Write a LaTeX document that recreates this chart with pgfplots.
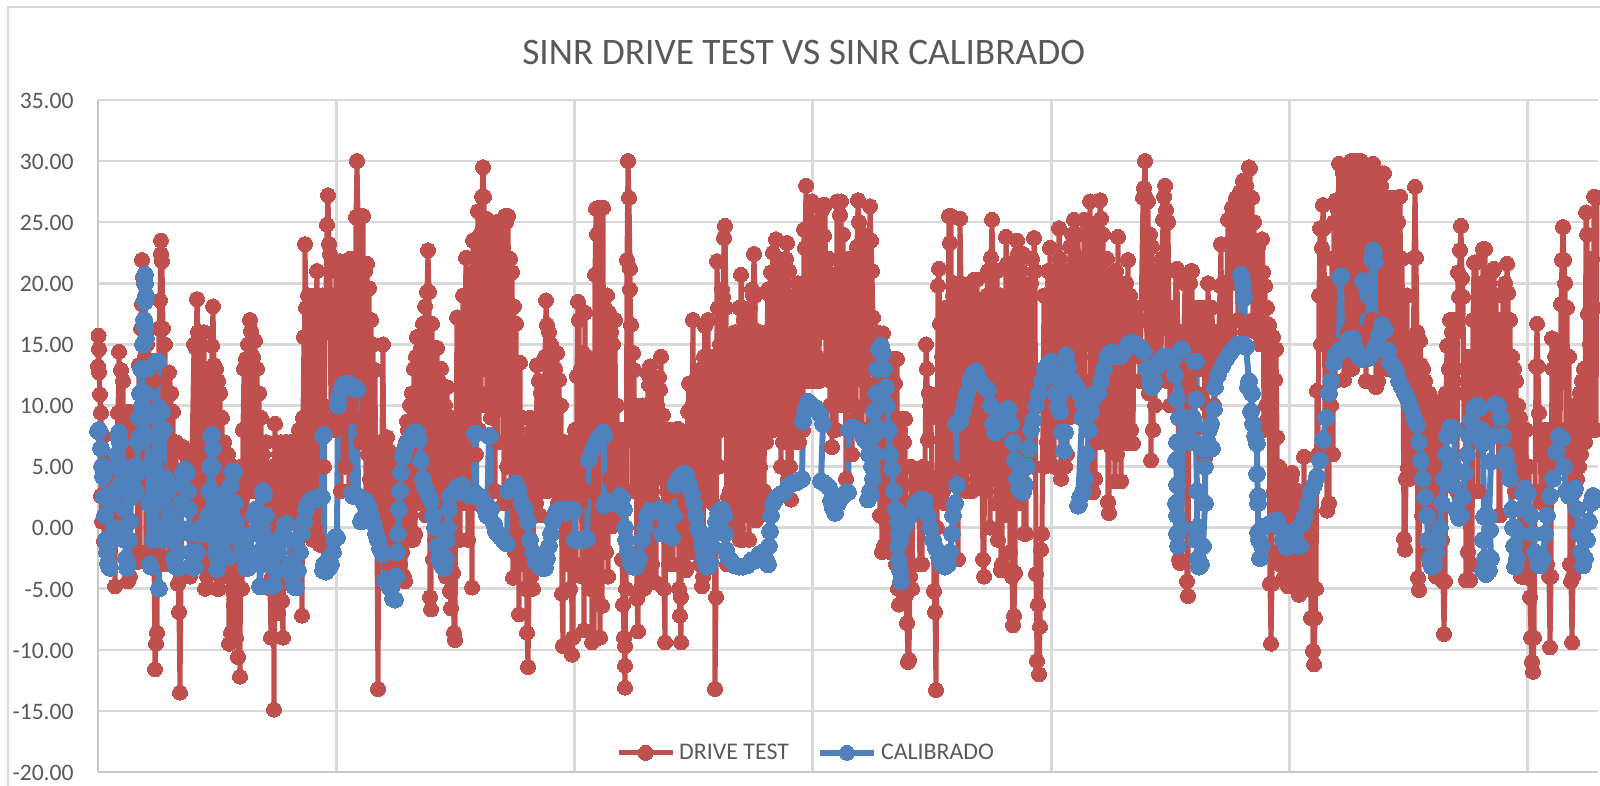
\documentclass[border=0pt]{standalone}
\usepackage{fontspec}
\setmainfont{Carlito}
\usepackage{pgfplots}
\pgfplotsset{compat=1.18}
\definecolor{rojo}{HTML}{C0504D}
\definecolor{azul}{HTML}{4F81BD}
\definecolor{texto}{HTML}{595959}
\definecolor{rejilla}{HTML}{D9D9D9}
\begin{document}
\begin{tikzpicture}
\path[use as bounding box] (0,0) rectangle (800pt,393pt);
\draw[rejilla,line width=1pt] (4.2pt,0) -- (4.2pt,389.5pt) -- (800pt,389.5pt);
\begin{axis}[
    at={(49pt,7pt)},
    anchor=south west,
    scale only axis,
    width=750pt,
    height=336pt,
    xmin=0, xmax=1500,
    ymin=-20, ymax=35,
    clip=false,
    axis lines*=left,
    axis line style={-,rejilla!92!black,line width=1.25pt},
    xtick={238.3,476.6,714.9,953.2,1191.5,1429.8},
    xticklabels={},
    ytick={-20,-15,...,35},
    major tick length=0pt,
    ymajorgrids=true,
    xmajorgrids=true,
    x grid style={rejilla,line width=1.5pt},
    y grid style={rejilla,line width=1.25pt},
    /pgf/number format/assume math mode=true,
    /pgf/number format/fixed,
    /pgf/number format/fixed zerofill,
    /pgf/number format/precision=2,
    y tick label style={font=\fontsize{11.8}{13}\selectfont,text=texto,inner sep=0pt,xshift=-12pt,yshift=-0.4pt},
    title={SINR DRIVE TEST VS SINR CALIBRADO},
    title style={at={(0.4705,1)},anchor=center,yshift=18pt,font=\fontsize{18.7}{22}\selectfont,text=texto},
    legend columns=2,
    legend style={at={(0.4727,0.0285)},anchor=center,draw=none,fill=none,font=\fontsize{11.95}{14}\selectfont,text=texto,
        /tikz/every even column/.append style={column sep=12pt}},
    legend image code/.code={
        \draw[#1,mark=none] (0pt,0pt) -- (27pt,0pt);
        \draw[#1,only marks,mark size=3.75pt] plot coordinates {(13.5pt,0pt)};},
    line join=round,
]
% DRIVE TEST
\addplot[rojo,line width=2.5pt,mark=*,mark size=3.75pt,mark options={solid,fill=rojo,draw=rojo,line width=0pt}] coordinates {
(0,13.2)(0.5,15.7)(1,14.6)(1,12.7)(2,10.9)(3,9.4)(3,2.6)(4,0.5)(5,7.5)(6,-1.1)(7,6)(9,1.7)(10,4.6)(12,-.5)(14,5)(16,3)(17,-4.8)(18,6)(20,9.4)(21,14.4)(22,1)(23,12.9)(24,-1)(25,12)(26,2)(28,9.4)(29,-1)(30,-4.4)(31,9.5)(32,-4)(34,8)(36,3)(38,9.5)(40,-2.8)(41,13.3)(42,-2)(43,16.3)(44,21.9)(44,18.3)(45,20.5)(46,5)(47,14)(48,-2)(49,15)(50,2)(52,13)(54,-1)(55,12)(56,-2)(57,-11.6)(58,-9.5)(59,-8.6)(60,5)(61,16.3)(62,18.6)(63,23.5)(63,22.4)(64,21.8)(65,16.3)(66,-3)(67,15)(69,1)(71,12.7)(73,11)(74,-3)(75,9.5)(76,-2)(78,7)(79,0)(80,-4.6)(81,-6.9)(82,-13.5)(83,-4)(84,3)(85,6.6)(87,6)(88,2)(90,6.2)(92,-4)(94,6)(96,15)(97,-1)(98,14.7)(99,18.7)(100,16)(101,-3)(102,16)(103,-1)(104,13)(105,1)(106,16)(107,-5)(108,13)(109,-4)(110,11)(111,0)(112,13)(113,-1)(114,14.9)(115,18.1)(116,13.3)(117,-3)(118,13)(119,-5)(120,12)(121,-5)(122,11)(123,-4)(124,9)(125,-1)(126,7)(127,-1)(128,5)(129,-4)(130,6)(131,-9.5)(132,2)(133,-8.6)(134,-3)(135,5)(136,-6.3)(137,4)(138,-9)(139,2)(140,-10.6)(141,3)(142,-12.2)(143,5)(144,-5)(145,8)(146,13)(147,-3)(148,13.8)(149,-2)(150,15)(151,3)(152,17)(153,16.1)(154,5)(155,14)(156,3)(157,15.3)(158,5)(159,13)(160,4)(161,11)(162,3)(163,9)(164,2)(165,6)(166,1)(168,7)(170,-3)(171,4)(172,-5)(173,-9)(174,-4)(175,5)(176,-14.9)(177,8.5)(178,-5)(179,7)(180,-7)(181,6)(182,-6)(183,7)(184,-6)(185,-9)(186,1)(187,7)(188,-1)(189,7)(191,2)(192,7)(193,3)(194,7)(195,4)(196,7)(198,1)(199,7)(200,-2)(201,8)(202,0)(203,8)(204,-7.2)(205,9)(206,15.6)(206,2)(207,23.2)(208,18)(209,3)(210,19)(211,2)(212,17)(213,5)(214,18)(215,-1)(216,19)(217,0)(218,18)(219,21)(220,15)(221,-1)(222,-1.4)(223,10)(224,19)(225,10)(226,5)(227,16)(228,19)(229,24.8)(230,27.2)(231,23.2)(232,22.4)(233,8)(234,19)(235,9)(236,19)(237,8)(238,21)(240,11)(241,19)
(242,21.8)(243,3)(244,21)(245,9)(246,18)(247,5)(248,21.8)(249,9)(250,20)(251,3)(252,22)(253,10)(254,21)(255,11)(256,22)(257,11)(258,25.4)(259,30)(260,25.5)(261,9)(262,25.5)(263,7)(264,21)(265,25.5)(266,8)(267,21)(268,2)(269,21.6)(270,6)(271,19.6)(272,4)(273,17)(274,3)(275,15)(276,2)(277,12.9)(278,1)(279,-1)(280,-13.2)(281,3)(282,7)(283,-.5)(284,7)(285,15)(286,2)(287,7)(288,-2)(289,7.4)(290,-2.5)(291,6.3)(292,-3)(293,5)(294,-2)(295,6)(296,-3)(297,4)(298,-1)(299,5)(300,-1.5)(301,4)(302,-3)(303,6)(304,-2)(305,6)(306,-4)(307,-4.4)(308,7)(309,8.7)(310,8)(311,-1)(312,10)(313,1)(314,11)(315,-1)(316,13)(317,-.5)(318,14)(319,15.6)(320,2)(321,13)(322,3)(323,14.7)(324,2)(325,16.7)(326,4)(327,18.1)(328,1)(329,19.3)(330,22.7)(331,19.3)(332,-5.7)(333,-6.7)(333,2)(334,16.7)(335,-2.6)(336,14.7)(337,-1)(338,13)(339,14.7)(340,1)(341,12)(342,-1)(343,13)(344,2)(345,11.5)(346,-2)(347,10)(348,-4)(349,11.5)(350,0)(351,9)(352,-5.2)(353,-6.6)(354,9)(355,-3.7)(356,-8.6)(357,-9.2)(358,6)(359,17.2)(360,4)(361,8)(362,-1)(363,17)(364,3)(365,19)(366,2)(367,17)(368,22.1)(369,19)(370,-1)(371,17)(372,3)(373,20)(374,-4.9)(375,23.5)(376,2)(377,21)(378,6)(379,21)(380,25.9)(381,8)(382,24)(383,10)(384,27.1)(385,29.5)(386,27.1)(387,13)(388,25.3)(389,11)(390,24)(391,10)(392,22)(393,9)(394,25)(395,10)(396,22)(397,3)(398,25)(399,25)(400,7)(402,24)(403,10)(405,23)(406,2)(407,25.5)(408,25)(409,5)(410,25.5)(411,8)(412,22)(413,-1)(414,20.9)(415,-4.1)(416,18.1)(417,-2)(418,16.7)(419,1)(420,9)(421,-7.1)(422,13.5)(423,-3)(424,9)(425,-3)(426,7)(427,-5)(428,7)(429,-8.6)(430,-11.4)(431,-5)(432,9)(433,-4)(434,8)(435,-5)(436,7)(437,5)(438,2)(439,13.3)(440,3)(441,12)(442,1)(443,11)(444,3)(445,10)(446,5)(447,14)(448,18.6)(449,16.6)(450,3)(451,16)(452,4)(453,15)(454,5)(455,14)(456,5)(457,13)(458,5)(459,14.3)(460,2)(461,12.1)(462,3)(463,10)(464,-5.4)(465,-9.7)(465,7)(466,3)(467,7)(468,2)(470,-3)(471,7)(472,-5)(473,6)(474,-10.4)(475,-9)(476,5)(477,8)(478,-3)(479,12.4)(480,18.5)(481,17)(482,2)(483,13)(484,-4)(485,14.3)(486,-8.4)(487,17.6)(488,3)(489,14)(490,-3)(491,13)
(492,-5)(493,12)(494,-9.4)(495,12)(496,-9.2)(497,20.7)(498,26.1)(499,24)(500,-6)(501,26.2)(502,-9)(503,26.2)(504,-6.4)(505,26.2)(506,0)(507,18)(508,-2)(509,19)(510,-4)(511,17.6)(512,4)(513,16)(514,.1)(515,15)(516,1)(517,17)(518,2)(519,10)(520,3)(521,8)(522,3)(523,8)(524,-2.6)(525,-6.3)(526,-9)(527,-13.1)(527,-11.3)(527,-9.7)(528,-5)(529,21.9)(530,30)(531,27)(532,21.2)(532,19.5)(533,16.6)(534,3)(535,14.3)(536,12.9)(537,3)(538,10)(539,-5.8)(540,-8.5)(541,9)(542,3)(543,-4.9)(544,10)(545,3)(546,-5)(547,10)(548,4)(549,-4)(550,12.6)(551,11.7)(552,13.2)(553,5)(554,-3)(555,9)(556,2)(557,11)(558,-4.5)(559,10)(560,5)(561,12.3)(562,11.3)(563,14)(564,4)(565,9.2)(566,-5)(567,-9.4)(568,8)(569,3)(570,8)(571,-3)(572,8)(573,3)(574,8)(575,-3)(576,8)(577,3)(578,8)(579,1)(580,8.1)(581,-5)(582,-7.2)(583,-9.4)(583,-5.7)(584,3)(585,7)(586,-3)(587,7)(588,-3.5)(589,7)(590,9.5)(591,11.8)(592,8)(593,-2)(594,10)(595,17)(596,4)(597,11)(598,-2)(599,10)(600,0)(601,12)(602,-3)(603,13)(604,-4.8)(605,-4)(606,14)(607,16.5)(608,14)(609,3)(610,17)(611,4)(612,14)(613,3)(614,12)(615,2)(616,14)(617,-13.2)(618,-5.7)(619,21.8)(620,18)(621,5)(622,15)(623,8)(624,19.5)(625,18.9)(626,23.7)(627,24.7)(628,18)(629,-3)(630,2.5)(631,15)(632,3)(633,12)(634,1)(635,14)(636,.5)(637,16)(638,1)(639,14)(640,0)(641,18)(642,-1)(643,20.7)(644,18)(645,-1)(646,17)(647,1)(648,15)(649,1.4)(650,17)(651,-1)(652,18)(653,2)(654,19.5)(655,19)(656,22.4)(657,19)(658,.6)(659,16.1)(660,1)(661,16)(662,5)(663,15)(664,2)(665,14)(666,3)(667,15)(668,7)(669,16)(670,19.5)(671,8)(672,19)(673,20.9)(674,19.5)(675,22.5)(676,8)(677,20)(678,23.6)(679,10)(680,22)(681,9)(682,20)(683,5)(684,21)(685,7)(686,18)(687,8)(688,22)(689,23.3)(690,4)(691,21)(692,5)(693,2.3)(694,16)(695,8)(696,18)(697,9)(698,19)(699,7)(700,20)(701,7)(702,19)(703,10)(704,20)(705,8)(706,24.4)(707,22.9)(708,28)(709,24.4)(710,12)(711,23)(712,12)(713,23)(714,26.7)(715,14)(716,22)(717,12)(718,24)(719,14)(720,25)(721,12)(722,24)(723,16)(724,26)(725,26.4)(726,23.9)(727,26.4)(728,13)(729,21)(730,12.1)(731,22)(732,10)(733,20)(734,6.6)(735,18)(736,8)(737,20)(738,8)(739,26.7)(740,20)(741,10)
(742,25.6)(743,26.7)(744,10)(745,24)(746,11)(747,21)(748,4)(749,20)(750,11)(751,22)(752,10)(753,22)(754,6)(755,20)(756,10)(757,21)(758,9)(759,23)(760,26.8)(761,25)(762,14)(763,22)(764,8)(765,24)(766,12)(767,22)(768,10)(769,23.5)(770,8)(771,21)(772,26.3)(773,23.5)(774,21)(775,17.2)(776,11.7)(777,14)(778,8)(779,16)(780,3)(781,13)(782,1)(783,15)(784,-2)(785,15.9)(786,-1.5)(787,13)(788,.5)(789,13.8)(790,-1)(791,12)(792,-2)(793,11.8)(794,-1)(795,13.8)(796,0)(797,11.8)(798,-3)(799,13.8)(800,-5)(801,-6.3)(802,8)(803,-4)(804,8.9)(805,-5)(806,7)(807,8.9)(808,-5.5)(809,-7.8)(810,-11)(811,-10.8)(812,-4)(813,5)(814,-5)(815,2)(816,3.5)(818,2)(820,4.6)(822,-3)(824,-3)(825,5)(826,1)(827,4)(828,15)(829,13)(830,7.2)(831,11)(832,10)(833,9)(834,4)(835,3)(836,-5.2)(837,-6.9)(838,-13.3)(839,0)(840,19.8)(841,21.2)(842,16.7)(843,4)(844,14)(845,3)(846,17)(847,2)(848,18)(849,4)(850,16)(851,25.5)(852,23.3)(853,25.5)(854,5)(855,19)(856,20)(858,2)(859,17)(860,-2.6)(861,16)(862,25.3)(863,20)(864,4)(865,17)(866,19.5)(868,3)(869,17)(870,5)(871,18)(872,20)(874,3)(875,19)(876,20.3)(877,5)(878,17)(879,20.3)(880,9)(881,15)(882,4)(883,18)(884,4)(885,-2.6)(886,-4)(887,17)(888,3)(889,19)(890,21)(892,0)(893,22.1)(894,25.2)(895,21)(896,4)(897,19)(898,2)(899,21)(900,-1)(902,19)(903,-3.5)(904,-3)(905,18)(907,1)(908,23.8)(909,21.6)(910,8)(911,18)(912,-2)(913,21.6)(914,-4)(915,-8)(916,-7.2)(917,-3.7)(918,19)(919,23.5)(920,22.4)(922,2)(923,21)(924,4)(925,22.4)(926,-.5)(927,19)(928,-.5)(929,18)(930,6)(931,19)(932,5)(933,20)(934,22)(935,5)(936,23.7)(937,21)(938,-3.8)(939,-10.9)(940,-6.3)(941,-12)(942,-8.1)(943,-1.8)(944,-.5)(945,10)(946,19)(947,5)(948,19)(949,7)(950,21)(951,6)(952,22.9)(953,8)(955,20)(956,5)(957,21)(958,10)(959,20)(960,9)(961,24.5)(962,22)(963,4)(964,20)(965,5)(966,19)(967,5)(968,20)(969,6)(970,21)(971,9)(972,23)(973,12.4)(974,24)(975,10)(976,25.2)(977,15)(978,24)(979,13)(980,24)(982,14)(983,22)(985,12)(986,25.2)(987,12)(988,24)(990,15)
(992,26.7)(993,3)(994,20)(995,2.9)(996,24)(997,4)(998,24)(999,7)(1000,25)(1001,7)(1002,26.8)(1003,25.3)(1004,9)(1005,24)(1006,10)(1007,22)(1008,8)(1009,22)(1010,2.1)(1011,1.2)(1012,20)(1013,6.6)(1014,20)(1015,8)(1016,20)(1017,3.8)(1018,21)(1019,6)(1020,23.8)(1021,8)(1022,18)(1023,3.8)(1024,20)(1025,7)(1026,19)(1027,6.9)(1028,20)(1029,9)(1030,21.9)(1031,7)(1032,19)(1033,8)(1034,18)(1035,6.9)(1036,18)(1037,14)(1038,18)(1040,14)(1041,17)(1042,12)(1043,17)(1045,27)(1046,27.8)(1047,30)(1048,27)(1049,12)(1050,26.7)(1051,11)(1052,24)(1053,5.5)(1054,23)(1055,8)(1056,21)(1057,10)(1058,19)(1059,12)(1060,18)(1061,12)(1062,20)(1063,13)(1064,22)(1065,25.2)(1066,27.1)(1067,28)(1068,26)(1069,12)(1070,25)(1072,10)(1074,18)(1076,14)(1078,21)(1079,21.2)(1080,13)(1081,-2.6)(1082,-2.9)(1083,16)(1085,13)(1087,20)(1088,20.4)(1089,-4.4)(1090,-5.6)(1091,12)(1092,20)(1093,21)(1094,21)(1095,8)(1096,17)(1097,8)(1098,18)(1099,11)(1100,18)(1101,13)(1102,18)(1103,14)(1104,18)(1105,13)(1106,18)(1107,5.7)(1108,18)(1109,10)(1110,20)(1112,12)(1114,18)(1116,10)(1118,16)(1120,13)(1122,19.8)(1123,23.2)(1124,14)(1126,20)(1128,15)(1130,25.2)(1132,16)(1134,26.2)(1136,20)(1138,27)(1140,17)(1142,27.5)(1144,22)(1145,28.4)(1147,16)(1148,28)(1150,19)(1151,29.5)(1152,29.4)(1153,22)(1154,27)(1155,17)(1156,25)(1158,16)(1160,23)(1162,15)(1164,23.6)(1165,20.9)(1166,8)(1167,19.8)(1168,10)(1169,18)(1170,9)(1171,16.6)(1172,-4.6)(1173,-9.5)(1174,-4.6)(1175,15.6)(1176,3)(1177,12.1)(1178,14.6)(1179,7.4)(1180,-2)(1181,5)(1182,-3)(1183,4.5)(1184,-2)(1185,4)(1186,-4)(1187,4)(1188,-3)(1189,4)(1190,-4.8)(1191,4)(1192,-4)(1193,4)(1194,4.5)(1195,-3)(1196,3)(1197,-4)(1198,3)(1199,-5)(1200,3)(1201,-5.5)(1202,1)(1203,-5)(1204,2)(1205,-3)(1206,5.8)(1207,-3)(1208,3)(1209,-4)(1210,1)(1211,-5)(1212,-1)(1213,-7.4)(1214,3)(1215,-10.1)(1216,-11.2)(1217,-7.4)(1218,-5)(1219,11.2)(1220,6)(1221,19)(1222,24.5)(1223,15)(1224,22.9)(1225,26.4)(1226,24.5)(1227,9)(1228,20)(1229,1.4)(1230,15)(1231,2)(1232,18.9)(1233,10)(1234,22)(1235,6)(1236,25)(1237,12)(1238,26.8)(1239,14)(1240,26)
(1241,29.8)(1242,26.8)(1243,15)(1244,25)(1245,29)(1246,12.1)(1247,29)(1248,14)(1249,27)(1250,16)(1251,29.5)(1252,15)(1253,30)(1254,13)(1255,30)(1256,14)(1257,30)(1258,15)(1259,28)(1260,18)(1261,30)(1262,15)(1263,30)(1264,14)(1265,29)(1266,16)(1267,29.7)(1268,12)(1269,28)(1270,14)(1271,28)(1272,16)(1273,26)(1274,17)(1275,29.8)(1276,15)(1277,29)(1278,11.5)(1279,28)(1280,12)(1281,27)(1282,14)(1283,28)(1284,29)(1285,24)(1286,29)(1287,15)(1288,25)(1289,13)(1290,27)(1291,15)(1292,26)(1293,14)(1294,27)(1295,15)(1296,26)(1297,15)(1298,27)(1299,16)(1300,25)(1301,14)(1302,27.1)(1303,14)(1304,22)(1305,13)(1306,-.9)(1307,-1.8)(1308,4)(1309,19)(1310,4.9)(1311,15)(1312,4)(1313,6.4)(1314,10)(1315,7)(1316,22.1)(1317,27.9)(1318,22.1)(1319,16)(1320,-4.1)(1321,-5.1)(1322,15.3)(1323,13.3)(1324,1)(1325,13)(1326,3)(1327,12)(1328,3)(1329,11)(1330,-2)(1331,11)(1332,-3)(1333,10.6)(1334,2)(1335,9.5)(1336,-3)(1337,9.5)(1338,-4)(1339,9)(1340,-3.5)(1341,10)(1342,0)(1343,10)(1344,-1)(1345,-4.4)(1346,-8.7)(1347,-4.4)(1348,11)(1349,14.9)(1350,8)(1351,13)(1352,17)(1353,8)(1354,16)(1355,8)(1356,17)(1357,13)(1358,16)(1359,3)(1360,20.9)(1361,18.9)(1362,22.7)(1363,24.7)(1364,20.4)(1365,18.9)(1366,8)(1367,11)(1368,-4.3)(1369,12)(1370,-2)(1371,14)(1372,-4.3)(1373,14)(1374,-3)(1375,17)(1376,21.7)(1377,12)(1378,21.7)(1379,17)(1380,3)(1381,18)(1382,7)(1383,20)(1384,8)(1385,22.8)(1386,20)(1387,22.8)(1388,9)(1389,19)(1390,8)(1391,20)(1392,9)(1393,19)(1394,11)(1395,21)(1396,21.2)(1397,12)(1398,19)(1399,12)(1400,17)(1401,1)(1402,1)(1403,17)(1404,10)(1405,19)(1406,12)(1407,20)(1408,8)(1409,21.6)(1410,19.2)(1411,10)(1412,17)(1413,7)(1414,14)(1415,5)(1416,13)(1417,3)(1418,12)(1419,3)(1420,10)(1421,4)(1422,9)(1423,-4)(1424,8)(1425,-4)(1426,8)(1427,1)(1428,8)(1429,-1)(1430,-4.1)(1431,5)(1432,-5.7)(1433,-9)(1434,-11)(1435,-11.8)(1436,-9)(1437,3)(1438,13.2)(1439,16.7)(1440,13.2)(1441,9.4)(1442,8)(1443,3)(1444,7)(1445,2)(1446,8)(1447,2)(1448,8)(1449,-3)(1450,7)(1451,-4)(1452,-9.8)(1453,-4)(1454,15.5)(1455,13)(1456,5)(1457,14)(1458,5)(1459,15)(1460,6)(1461,15)(1462,7)(1463,18.3)(1464,21.9)(1465,24.6)(1466,21.9)(1467,20)(1468,8)(1469,18)(1470,5)(1471,14)(1472,-3)(1473,-4.4)(1474,-9.4)(1475,-4)(1476,10)(1477,3)(1478,9)(1479,4)(1480,10)(1481,5)(1482,11)(1483,6)(1484,12)(1485,7)(1486,13)(1487,7)(1488,25.8)(1489,24)(1490,17.5)(1491,8)(1492,15)(1493,14)(1494,22)(1495,8)(1496,27.1)(1497,18)(1498,8)(1499,27)
};
\addlegendentry{DRIVE TEST}
% CALIBRADO
\addplot[azul,line width=3pt,mark=*,mark size=4.2pt,mark options={solid,fill=azul,draw=azul,line width=0pt}] coordinates {
(0,7.9)(1,8)(3,6.5)(4,5)(5,4.2)(6,2.5)(7,1)(8,-1)(9,-2)(10,-2.9)(11,-3.2)(12,-3.3)(14,-1)(15,2)(16,0)(17,3)(18,5)(19,6)(20,7.5)(21,7.8)(22,7)(24,5)(25,3.5)(26,1.5)(27,-1)(28,-2.5)(29,-3.3)(30,-3)(31,-1)(32,0.5)(33,2.5)(35,4)(37,5)(38,3)(39,4.5)(40,7)(41,9)(42,7.5)(42,11)(43,13)(44,10)(45,15)(46,17)(47,20.7)(47,20)(48,19)(47,18.5)(47,16.5)(48,15.5)(49,13)(48,11)(47,9.5)(49,7.5)(50,5)(51,2)(52,-3)(53,-3.2)(55,-1)(57,5)(58,13.6)(60,13.6)(59,9)(60,6)(61,-5)(62,9.8)(63,3)(64,9.5)(65,-1)(66,8)(67,0)(68,4)(70,3)(71,1)(72,0.5)(74,-1)(76,-2.5)(78,-3.2)(80,-3.3)(81,-2)(82,0)(83,2)(84,3.5)(85,4.5)(87,4.8)(89,4.5)(90,3)(91,1.5)(92,-.5)(93,-2)(94,-3)(95,-3.3)(97,-3.2)(99,-2)(101,-0.5)(103,0)(105,0)(107,0.3)(109,-.5)(110,1)(111,3)(112,5)(113,7.5)(114,7.6)(115,6.5)(115,5)(114,3)(116,1.5)(117,-1)(118,-2)(119,-3.4)(120,-2.5)(122,0)(124,2)(125,-1)(127,2.8)(128,0)(130,-2.4)(132,1)(133,3.5)(134,4.6)(136,4.6)(137,2)(138,.5)(140,-.5)(142,-1)(144,-1.5)(146,-2.5)(148,-3.3)(150,-3.3)(152,-2)(154,-.5)(156,1)(158,1.5)(160,0)(161,-2)(162,-4.8)(163,-3)(164,0)(165,3)(166,2.7)(168,1)(170,-1)(172,-3)(174,-4.8)(176,-4.7)(178,-3.5)(180,-2)(183,-1)(185,-.5)(187,.3)(189,.3)(191,-1)(192,-3)(194,-4)(196,-4.8)(198,-4.9)(200,-3.5)(202,-2)(204,-.5)(206,.5)(208,1.5)(210,2)(212,2.2)(215,2.4)(218,2.3)(220,2.5)(222,2.5)(224,2.5)(225,7.5)(226,7.6)(226,-3)(225,-3.5)(228,-3.6)(231,-3.3)(233,-3)(235,-2)(236,-1)(237,-.8)(239,-.8)(240,10)(240,10.5)
(242,11)(245,11.7)(248,11.8)(251,11.8)(253,11.6)(254,2.8)(255,2.6)(257,11.5)(259,11.3)(260,2.6)(262,2.5)(263,0.5)(264,0.7)(266,2)(268,2.2)(271,1.6)(273,1)(276,.3)(278,-.5)(280,-1)(282,-1.7)(285,-2.2)(287,-4.3)(289,-4.5)(291,-4.8)(293,-5)(295,-5.8)(297,-5.9)(298,-4)(299,-2)(300,-.5)(301,1.5)(302,3)(303,4.5)(305,5.8)(307,6.5)(310,7)(313,7.5)(316,7.8)(319,7.8)(321,7.2)(323,5.5)(325,4)(327,3.3)(330,2.8)(333,2.2)(335,1)(337,0)(339,-1.5)(341,-2.5)(344,-3.1)(346,-3.3)(348,-2.5)(349,-1)(350,0)(351,1.5)(352,2.6)(355,2.8)(358,3.2)(361,3.4)(364,3.5)(367,3)(370,2.7)(373,2.7)(376,2.6)(377,7.7)(378,7.7)(378,2.8)(381,2.6)(384,2.4)(387,1.5)(389,1)(391,7.5)(392,7.5)(393,1.5)(396,.3)(398,-.3)(400,-.5)(403,-.8)(406,-1.1)(409,-1.3)(410,3)(412,3.2)(415,3.5)(418,3.6)(421,3)(424,2)(427,1.5)(430,.5)(432,-1)(435,-2)(438,-2.8)(441,-3.1)(444,-3.3)(447,-3.3)(449,-2.5)(451,-1.5)(453,-.5)(455,.5)(458,1.3)(461,1.5)(464,1.4)(467,1.2)(470,1.5)(473,1.5)(476,1.4)(477,-1)(480,-1)(483,-1)(486,-1)(489,-.9)(491,5.6)(495,6.5)(499,7.2)(503,7.6)(505,7.8)(506,7.5)(506,1.8)(508,2.2)(511,2)(514,2)(517,2)(520,2.3)(522,2.6)(524,2.4)(526,1.5)(527,0)(528,-1)(530,-2)(532,-2.8)(535,-3.2)(538,-3.2)(541,-2.5)(544,-1)(547,0)(549,1)(552,1.4)(555,1.4)(558,1.4)(562,1.5)(564,-.5)(566,1.2)(568,1.3)(570,1)(572,-.6)(574,-.8)(576,1)(577,3.5)(579,3.8)(582,4.2)(585,4.4)(588,4.4)(590,3.8)(592,3.2)(594,2.8)(596,2)(598,1)(600,0)(602,-.5)(604,-1.5)(606,-2.5)(608,-3.1)(610,-3.2)(612,-2.8)(614,-1.5)(616,-.5)(618,.5)(620,1.2)(622,1.4)(624,1.5)(626,1)(627,-.5)(628,-1.8)(630,-2.4)(633,-2.7)(637,-3.1)(641,-3.2)(645,-3.2)(649,-3.1)(653,-2.7)(657,-2.7)(661,-2.2)(665,-2)(668,-2.6)(670,-3)(671,-1.5)(672,-.3)(673,1)(675,2)(678,2.4)(682,2.7)(686,2.9)(690,3.4)(694,3.6)(698,3.7)(702,3.9)(704,4)(705,8.7)(707,9.6)(710,10.3)(714,10)(718,9.8)(722,9.3)(725,8.5)(723,3.8)(727,3.6)(731,3.3)(733,2.2)(735,1.6)(737,1.2)(740,2)(744,2.5)(748,2.9)(750,2.9)(751,8)(754,8.2)(758,8.1)(762,7.9)(766,7.3)(769,7)(771,6)(772,3)(770,2.3)(773,2.7)(775,4)(774,5)(777,6)(775,7.5)(778,8.3)(776,9.5)(778,11)(779,13)(781,14.6)(783,14.9)(785,14.3)(786,13)(788,11.5)(789,10)(791,8)(792,6)(794,4.8)(796,3)(798,1.5)(800,.5)(801,-.5)(800,-1.5)(801,-2.6)(802,-3.5)(803,-4.4)(802,-1)(803,-.5)(806,0)(809,.6)(812,1)(815,1.5)(818,2)(821,2.2)(824,2.3)(827,2.2)(830,1)(832,0)(835,-1)(838,-1.7)(841,-2.4)(844,-3)(847,-3.2)(850,-3)(852,-2)(854,-.5)(855,1)(857,2)(859,3.5)(858,8.5)(860,8.6)(862,8.7)(865,9.5)(867,10.3)(869,11)(872,12)(875,12.6)(878,12.8)(881,12)(884,11.8)(887,11.5)(890,11.3)(893,10)(895,8.5)(897,7.8)(900,7.9)(903,8.5)(906,9.2)(909,9.7)(911,9.7)(913,8.5)(915,7)(917,5.5)(919,4)(921,3.2)(923,3)(925,2.9)(927,3.5)(929,5)(931,6.5)(933,8)(935,8.8)(938,10)(941,11)(944,12)(947,13)(950,13.4)(953,13.6)(956,12.5)(958,11)(960,10)(962,9.5)(964,7.8)(966,6.3)(967,7.8)(966,12)(968,14.1)(970,13.2)(972,11.5)(975,12)(979,11.5)(982,11)(985,10.2)(987,9.9)(984,9)(980,1.8)(981,1.9)(982,2.5)(985,3)(987,4)(989,6)(991,8)(993,9.5)(995,10.5)(997,11)(1000,11)(1003,12)(1006,13)(1009,14)(1012,14.3)(1015,14.3)(1018,14)(1022,14)(1026,14.4)(1030,15)(1034,15.2)(1038,15)(1042,14.8)(1046,14.4)(1049,13)(1052,12)(1054,11.5)(1056,12)(1059,13.2)(1062,13.7)(1066,14)(1070,14)(1074,13.6)(1077,12.5)(1079,10.5)(1081,9)(1083,14.6)(1084,14.6)(1083,9)(1084,7)(1079,7)(1078,5.5)(1079,3.5)(1078,2)(1079,1)(1079,-.5)(1080,-1.5)(1083,0)(1085,9)(1088,8)(1092,7)(1096,8.5)(1097,13.6)(1098,13.6)(1098,10.5)(1095,9)(1098,7)(1099,3)(1099,0)(1098,-1)(1100,-2.5)(1101,-3.2)(1103,-3)(1105,-1.5)(1107,2)(1107,5)(1106,6.5)(1110,7)(1114,6.5)(1111,8)(1113,8.5)(1116,9.7)(1117,11.5)(1120,12.5)(1124,13.2)(1128,13.8)(1132,14.3)(1136,14.7)(1140,15)(1143,15)(1143,20.7)(1144,20.3)(1145,19.7)(1146,18.8)(1146,15)(1148,14.8)(1151,12)(1150,11.5)(1154,11)(1153,9.5)(1155,8.5)(1157,7.5)(1159,6.9)(1159,4.4)(1160,2.6)(1160,2)(1160,-.4)(1161,-1)(1162,-2.5)(1164,-1.5)(1167,.1)(1171,.3)(1175,.5)(1179,.6)(1182,0)(1185,-1)(1189,-1.6)(1193,-1)(1197,-.2)(1200,-1.5)(1202,-1.5)(1204,.3)(1207,1)(1210,2)(1213,3)(1216,3.5)(1219,4.2)(1222,5.5)(1225,7.2)(1228,9)(1231,11)(1233,12)(1236,13.5)(1238,14.2)(1241,14.5)(1242,20.5)(1243,20.6)(1244,14.5)(1247,14.8)(1250,15.3)(1252,15.4)(1255,15.5)(1258,14.6)(1261,14)(1264,13.8)(1265,20.2)(1267,20)(1268,14)(1271,13.9)(1273,14.2)(1274,22)(1275,22.7)(1276,22.5)(1277,21.8)(1276,14.5)(1278,15)(1281,15.8)(1284,16.6)(1287,16.2)(1290,14.5)(1292,13.5)(1295,13.3)(1298,12.8)(1301,12)(1304,11.5)(1307,11)(1310,10.5)(1313,9.8)(1316,9)(1319,8.4)(1321,7)(1323,5.5)(1325,4)(1327,2.5)(1329,1)(1330,-1)(1332,-2.5)(1334,-3.2)(1336,-3)(1338,-2)(1340,-1)(1342,0)(1344,2)(1346,4)(1348,6)(1349,7.5)(1352,8.2)(1355,8.1)(1357,8)(1356,5)(1355,3.5)(1358,1.5)(1361,.8)(1363,1)(1365,2.5)(1367,4.5)(1369,6)(1371,7.5)(1373,8.8)(1376,9.8)(1379,10)(1382,9.8)(1384,8)(1385,6.9)(1386,.9)(1388,1)(1385,-1)(1387,-2.5)(1385,-3.5)(1388,-3.8)(1391,-3.5)(1393,-2.5)(1392,-.2)(1391,.9)(1393,5.4)(1395,7.5)(1397,10.1)(1400,10)(1403,9)(1405,7.5)(1408,6)(1410,5)(1412,4)(1414,1.5)(1415,0)(1416,-1.5)(1417,-3.2)(1419,-2.5)(1421,-.5)(1423,1.5)(1425,2.8)(1427,3.2)(1430,2.8)(1433,1)(1435,-.5)(1437,-2)(1440,-3)(1442,-3.1)(1445,-2.5)(1447,-.5)(1449,1)(1452,2.6)(1455,4)(1458,6.2)(1461,7.5)(1464,7.3)(1466,5)(1468,3)(1471,2.6)(1474,3)(1477,3.2)(1479,1.5)(1481,-.5)(1483,-2)(1485,-3.1)(1487,-2.5)(1489,-1)(1491,.5)(1493,2)(1495,2.6)(1498,2.3)
};
\addlegendentry{CALIBRADO}
\end{axis}
\end{tikzpicture}
\end{document}
